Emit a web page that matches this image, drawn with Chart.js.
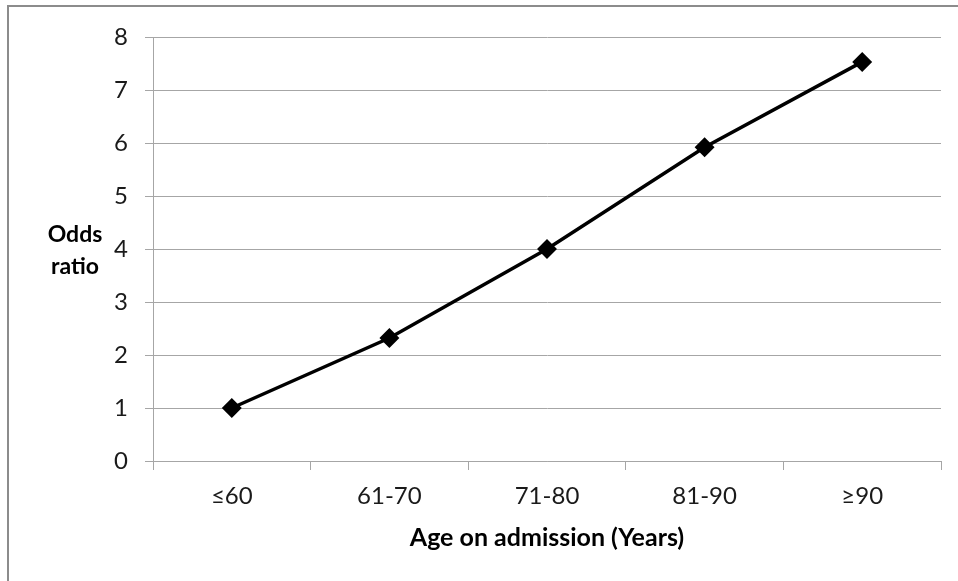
<!DOCTYPE html>
<html>
<head>
<meta charset="utf-8">
<script src="https://cdn.jsdelivr.net/npm/chart.js@4.4.1/dist/chart.umd.min.js"></script>
<style>
  html, body { margin: 0; padding: 0; background: #fff; overflow: hidden; }
  #wrap { position: relative; width: 958px; height: 581px; }
  #frame { position: absolute; left: 7px; top: 5px; width: 1000px; height: 1000px; border: 2px solid #8c8c8c; box-sizing: border-box; pointer-events: none; }
  canvas { position: absolute; left: 0; top: 0; }
</style>
</head>
<body>
<div id="wrap">
  <canvas id="c" width="958" height="581"></canvas>
  <div id="frame"></div>
</div>
<script>
// Odds ratio by age group on admission
const ageGroups = ['≤60', '61-70', '71-80', '81-90', '≥90'];
const oddsRatio = [1.0, 2.32, 4.0, 5.92, 7.53];
const yTicks = [0, 1, 2, 3, 4, 5, 6, 7, 8];

const FONT = 'Lato, "Open Sans", sans-serif';
const GRID = '#a6a6a6';
const TEXT = '#1a1a1a';

// Horizontal two-line axis caption on the left
const yCaption = {
  id: 'yCaption',
  afterDraw(chart) {
    const ctx = chart.ctx;
    ctx.save();
    ctx.font = 'bold 23px ' + FONT;
    ctx.fillStyle = '#000';
    ctx.textAlign = 'center';
    ctx.textBaseline = 'middle';
    ctx.fillText('Odds', 75, 235);
    ctx.fillText('ratio', 75, 267);
    ctx.restore();
  }
};

new Chart(document.getElementById('c'), {
  type: 'line',
  data: {
    labels: ageGroups,
    datasets: [{
      data: oddsRatio,
      borderColor: '#000',
      backgroundColor: '#000',
      borderWidth: 3.5,
      pointStyle: 'rectRot',
      pointRadius: 7.5,
      pointHoverRadius: 7.5,
      tension: 0,
      fill: false
    }]
  },
  options: {
    responsive: false,
    animation: false,
    events: [],
    layout: { padding: { top: 37, right: 17, left: 0, bottom: 0 } },
    plugins: { legend: { display: false }, tooltip: { enabled: false } },
    scales: {
      x: {
        offset: true,
        grid: { offset: true, drawOnChartArea: false, drawTicks: true, tickLength: 9, color: GRID, lineWidth: 1 },
        border: { color: GRID, width: 1 },
        ticks: { color: TEXT, font: { family: FONT, size: 24 }, padding: 12 },
        title: { display: true, text: 'Age on admission (Years)', color: '#000', font: { family: FONT, size: 25, weight: 'bold' }, padding: { top: 0, bottom: 28 } },
        afterFit(scale) { scale.height = 120; }
      },
      y: {
        min: 0, max: 8,
        afterBuildTicks(scale) { scale.ticks = yTicks.map(v => ({ value: v })); },
        grid: { color: GRID, lineWidth: 1, tickLength: 8 },
        border: { color: GRID, width: 1 },
        ticks: { color: TEXT, font: { family: FONT, size: 24 }, padding: 17 },
        afterFit(scale) { scale.width = 153; }
      }
    }
  },
  plugins: [yCaption]
});
</script>
</body>
</html>
